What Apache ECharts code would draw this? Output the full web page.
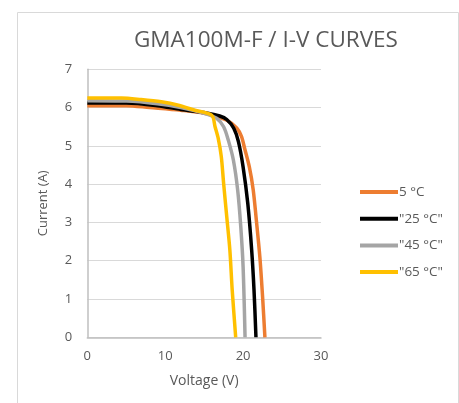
<!DOCTYPE html>
<html>
<head>
<meta charset="utf-8">
<script src="https://cdn.jsdelivr.net/npm/echarts@6/dist/echarts.min.js"></script>
<style>html,body{margin:0;padding:0;background:#fff}#c{width:459px;height:403px}</style>
</head>
<body>
<div id="c"></div>
<script>
var seriesNames = ['5 °C', '"25 °C"', '"45 °C"', '"65 °C"'];
var xTicks = [0, 10, 20, 30];
var yTicks = [0, 1, 2, 3, 4, 5, 6, 7];
var curve5 = [[0,6.05],[5,6.05],[8,6.0],[12,5.93],[15,5.85],[17.9,5.67],[19.2,5.46],[19.8,5.24],[20.2,4.93],[20.8,4.45],[21.3,3.85],[21.7,3.06],[22.15,2.1],[22.5,1.06],[22.8,0]];
var curve25 = [[0,6.12],[5,6.12],[9,6.05],[12,5.95],[15.3,5.86],[17,5.78],[17.9,5.69],[18.8,5.46],[19.4,5.11],[20.0,4.45],[20.6,3.5],[21.1,2.28],[21.4,1.24],[21.65,0]];
var curve45 = [[0,6.18],[5,6.17],[9,6.1],[12,6.0],[15,5.85],[16.6,5.72],[17.5,5.5],[18.1,5.15],[18.75,4.63],[19.3,3.85],[19.7,2.89],[20.0,1.84],[20.25,0]];
var curve65 = [[0,6.25],[4.4,6.25],[6.9,6.21],[9.5,6.15],[11.7,6.06],[13.8,5.93],[15.97,5.8],[16.4,5.5],[16.8,5.2],[17.2,4.72],[17.5,4.02],[17.9,3.15],[18.3,2.28],[18.6,1.24],[19.05,0]];
var colors = ['#ED7D31', '#000000', '#A5A5A5', '#FFC000'];
var curves = [curve5, curve25, curve45, curve65];

var font = 'Open Sans';
var chart = echarts.init(document.getElementById('c'));
chart.setOption({
  animation: false,
  color: colors,
  graphic: [{
    type: 'rect', left: 15, top: 10,
    shape: { width: 441, height: 400 },
    style: { fill: 'none', stroke: '#D9D9D9', lineWidth: 1 }
  }],
  title: {
    text: 'GMA100M-F / I-V CURVES',
    left: 129, top: 24,
    textStyle: { fontFamily: font, fontSize: 22.5, fontWeight: 'normal', color: '#595959' }
  },
  legend: {
    orient: 'vertical', left: 355, top: 180,
    itemWidth: 38, itemHeight: 4, itemGap: 12.7,
    icon: 'rect',
    textStyle: { fontFamily: font, fontSize: 13.5, color: '#595959', lineHeight: 14, padding: [0, 0, 0, -4] },
    data: seriesNames
  },
  grid: { left: 87.3, right: 138, top: 69.3, bottom: 65.7 },
  xAxis: {
    type: 'value', min: xTicks[0], max: xTicks[xTicks.length - 1], interval: 10,
    name: 'Voltage (V)', nameLocation: 'middle', nameGap: 37,
    nameTextStyle: { fontFamily: font, fontSize: 14, color: '#595959' },
    axisLine: { show: true, lineStyle: { color: '#BFBFBF', width: 1.5 } },
    axisTick: { show: false },
    splitLine: { show: false },
    axisLabel: { fontFamily: font, fontSize: 13, color: '#595959', margin: 12 }
  },
  yAxis: {
    type: 'value', min: yTicks[0], max: yTicks[yTicks.length - 1], interval: 1,
    name: 'Current (A)', nameLocation: 'middle', nameGap: 38, nameRotate: 90,
    nameTextStyle: { fontFamily: font, fontSize: 13, color: '#595959' },
    axisLine: { show: true, lineStyle: { color: '#BFBFBF', width: 1.5 } },
    axisTick: { show: false },
    splitLine: { show: true, lineStyle: { color: '#D9D9D9', width: 1 } },
    axisLabel: { fontFamily: font, fontSize: 13, color: '#595959', margin: 15 }
  },
  series: curves.map(function (d, i) {
    return {
      name: seriesNames[i], type: 'line', data: d, smooth: 0.3,
      showSymbol: false, symbol: 'none',
      lineStyle: { width: 3.5, color: colors[i] }
    };
  })
});
</script>
</body>
</html>
